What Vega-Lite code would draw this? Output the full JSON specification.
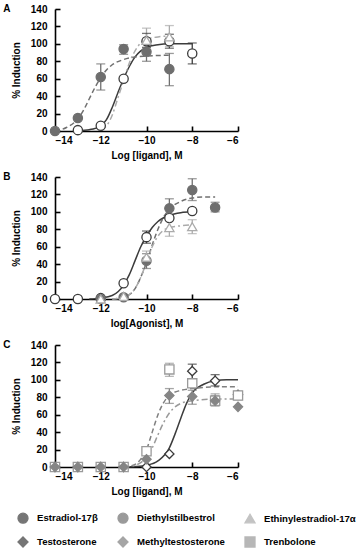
{
  "$schema": "https://vega.github.io/schema/vega-lite/v6.json",
  "padding": {"left": 3, "top": 4, "right": 0, "bottom": 48},
  "spacing": 12,
  "config": {
    "font": "Liberation Sans",
    "view": {"stroke": null},
    "axis": {
      "grid": false,
      "domainColor": "#000000",
      "domainWidth": 1.6,
      "tickColor": "#000000",
      "tickWidth": 1.6,
      "tickSize": -5,
      "labelOverlap": false,
      "labelFont": "Liberation Sans",
      "labelFontWeight": "bold",
      "labelFontSize": 10,
      "labelColor": "#000000",
      "titleFont": "Liberation Sans",
      "titleFontWeight": "bold",
      "titleFontSize": 10,
      "titleColor": "#000000"
    },
    "axisY": {"labelPadding": 13, "titlePadding": 9, "tickCount": 10},
    "axisX": {"labelPadding": 9, "titlePadding": 5, "tickCount": 10},
    "title": {"fontSize": 10, "fontWeight": "bold", "font": "Liberation Sans", "anchor": "start", "frame": "bounds", "offset": -10, "dx": -8, "color": "#000000"},
    "legend": {
      "padding": 0,
      "direction": "horizontal",
      "columns": 3,
      "labelFont": "Liberation Sans",
      "labelFontWeight": "bold",
      "labelFontSize": 9.6,
      "labelColor": "#000000",
      "labelOffset": 8,
      "symbolSize": 100,
      "symbolStrokeWidth": 1.3,
      "columnPadding": 17,
      "rowPadding": 8
    }
  },
  "datasets": {
    "points": [
      {"panel": "A", "series": "Estradiol-17β", "x": -13, "y": 1},
      {"panel": "A", "series": "Estradiol-17β", "x": -12, "y": 6},
      {"panel": "A", "series": "Estradiol-17β", "x": -11, "y": 60},
      {"panel": "A", "series": "Estradiol-17β", "x": -10, "y": 103},
      {"panel": "A", "series": "Estradiol-17β", "x": -9, "y": 103},
      {"panel": "A", "series": "Estradiol-17β", "x": -8, "y": 89},
      {"panel": "A", "series": "Diethylstilbestrol", "x": -14, "y": 0},
      {"panel": "A", "series": "Diethylstilbestrol", "x": -13, "y": 15},
      {"panel": "A", "series": "Diethylstilbestrol", "x": -12, "y": 62},
      {"panel": "A", "series": "Diethylstilbestrol", "x": -11, "y": 94},
      {"panel": "A", "series": "Diethylstilbestrol", "x": -10, "y": 91},
      {"panel": "A", "series": "Diethylstilbestrol", "x": -9, "y": 71},
      {"panel": "A", "series": "Ethinylestradiol-17α", "x": -10, "y": 104},
      {"panel": "A", "series": "Ethinylestradiol-17α", "x": -9, "y": 108},
      {"panel": "B", "series": "Estradiol-17β", "x": -14, "y": 0},
      {"panel": "B", "series": "Estradiol-17β", "x": -13, "y": 0},
      {"panel": "B", "series": "Estradiol-17β", "x": -12, "y": 1},
      {"panel": "B", "series": "Estradiol-17β", "x": -11, "y": 18},
      {"panel": "B", "series": "Estradiol-17β", "x": -10, "y": 71},
      {"panel": "B", "series": "Estradiol-17β", "x": -9, "y": 93},
      {"panel": "B", "series": "Estradiol-17β", "x": -8, "y": 101},
      {"panel": "B", "series": "Diethylstilbestrol", "x": -12, "y": 0},
      {"panel": "B", "series": "Diethylstilbestrol", "x": -11, "y": 2},
      {"panel": "B", "series": "Diethylstilbestrol", "x": -10, "y": 44},
      {"panel": "B", "series": "Diethylstilbestrol", "x": -9, "y": 104},
      {"panel": "B", "series": "Diethylstilbestrol", "x": -8, "y": 125},
      {"panel": "B", "series": "Diethylstilbestrol", "x": -7, "y": 105},
      {"panel": "B", "series": "Ethinylestradiol-17α", "x": -12, "y": 0},
      {"panel": "B", "series": "Ethinylestradiol-17α", "x": -11, "y": 3},
      {"panel": "B", "series": "Ethinylestradiol-17α", "x": -10, "y": 48},
      {"panel": "B", "series": "Ethinylestradiol-17α", "x": -9, "y": 82},
      {"panel": "B", "series": "Ethinylestradiol-17α", "x": -8, "y": 83},
      {"panel": "C", "series": "Testosterone", "x": -14, "y": 0},
      {"panel": "C", "series": "Testosterone", "x": -13, "y": 0},
      {"panel": "C", "series": "Testosterone", "x": -12, "y": 0},
      {"panel": "C", "series": "Testosterone", "x": -11, "y": 0},
      {"panel": "C", "series": "Testosterone", "x": -10, "y": 0},
      {"panel": "C", "series": "Testosterone", "x": -9, "y": 15},
      {"panel": "C", "series": "Testosterone", "x": -8, "y": 110},
      {"panel": "C", "series": "Testosterone", "x": -7, "y": 99},
      {"panel": "C", "series": "Testosterone", "x": -6, "y": 83},
      {"panel": "C", "series": "Trenbolone", "x": -14, "y": 0},
      {"panel": "C", "series": "Trenbolone", "x": -13, "y": 0},
      {"panel": "C", "series": "Trenbolone", "x": -12, "y": 0},
      {"panel": "C", "series": "Trenbolone", "x": -11, "y": 0},
      {"panel": "C", "series": "Trenbolone", "x": -10, "y": 18},
      {"panel": "C", "series": "Trenbolone", "x": -9, "y": 112},
      {"panel": "C", "series": "Trenbolone", "x": -8, "y": 96},
      {"panel": "C", "series": "Trenbolone", "x": -7, "y": 76},
      {"panel": "C", "series": "Trenbolone", "x": -6, "y": 82},
      {"panel": "C", "series": "Methyltestosterone", "x": -14, "y": 0},
      {"panel": "C", "series": "Methyltestosterone", "x": -13, "y": 0},
      {"panel": "C", "series": "Methyltestosterone", "x": -12, "y": 0},
      {"panel": "C", "series": "Methyltestosterone", "x": -11, "y": 0},
      {"panel": "C", "series": "Methyltestosterone", "x": -10, "y": 9},
      {"panel": "C", "series": "Methyltestosterone", "x": -9, "y": 82},
      {"panel": "C", "series": "Methyltestosterone", "x": -8, "y": 81},
      {"panel": "C", "series": "Methyltestosterone", "x": -7, "y": 76},
      {"panel": "C", "series": "Methyltestosterone", "x": -6, "y": 69}
    ],
    "errors": [
      {"panel": "A", "series": "Estradiol-17β", "x": -10, "lo": 96, "hi": 112},
      {"panel": "A", "series": "Estradiol-17β", "x": -9, "lo": 95, "hi": 111},
      {"panel": "A", "series": "Estradiol-17β", "x": -8, "lo": 77, "hi": 101},
      {"panel": "A", "series": "Diethylstilbestrol", "x": -12, "lo": 47, "hi": 77},
      {"panel": "A", "series": "Diethylstilbestrol", "x": -11, "lo": 88, "hi": 99},
      {"panel": "A", "series": "Diethylstilbestrol", "x": -10, "lo": 80, "hi": 100},
      {"panel": "A", "series": "Diethylstilbestrol", "x": -9, "lo": 52, "hi": 89},
      {"panel": "A", "series": "Ethinylestradiol-17α", "x": -10, "lo": 93, "hi": 118},
      {"panel": "A", "series": "Ethinylestradiol-17α", "x": -9, "lo": 97, "hi": 121},
      {"panel": "B", "series": "Estradiol-17β", "x": -10, "lo": 64, "hi": 78},
      {"panel": "B", "series": "Diethylstilbestrol", "x": -10, "lo": 35, "hi": 52},
      {"panel": "B", "series": "Diethylstilbestrol", "x": -9, "lo": 96, "hi": 115},
      {"panel": "B", "series": "Diethylstilbestrol", "x": -8, "lo": 113, "hi": 138},
      {"panel": "B", "series": "Diethylstilbestrol", "x": -7, "lo": 100, "hi": 111},
      {"panel": "B", "series": "Ethinylestradiol-17α", "x": -10, "lo": 42, "hi": 55},
      {"panel": "B", "series": "Ethinylestradiol-17α", "x": -9, "lo": 72, "hi": 90},
      {"panel": "B", "series": "Ethinylestradiol-17α", "x": -8, "lo": 75, "hi": 91},
      {"panel": "C", "series": "Testosterone", "x": -8, "lo": 101, "hi": 118},
      {"panel": "C", "series": "Testosterone", "x": -7, "lo": 93, "hi": 106},
      {"panel": "C", "series": "Methyltestosterone", "x": -9, "lo": 73, "hi": 90},
      {"panel": "C", "series": "Methyltestosterone", "x": -8, "lo": 72, "hi": 88},
      {"panel": "C", "series": "Methyltestosterone", "x": -7, "lo": 70, "hi": 82},
      {"panel": "C", "series": "Trenbolone", "x": -9, "lo": 104, "hi": 119},
      {"panel": "C", "series": "Trenbolone", "x": -7, "lo": 71, "hi": 84},
      {"panel": "C", "series": "Trenbolone", "x": -6, "lo": 77, "hi": 87}
    ],
    "curves": [
      {"panel": "A", "series": "Estradiol-17β", "style": "solid", "x": -13, "y": 0.3},
      {"panel": "A", "series": "Estradiol-17β", "style": "solid", "x": -12.5, "y": 1.5},
      {"panel": "A", "series": "Estradiol-17β", "style": "solid", "x": -12, "y": 6},
      {"panel": "A", "series": "Estradiol-17β", "style": "solid", "x": -11.75, "y": 13},
      {"panel": "A", "series": "Estradiol-17β", "style": "solid", "x": -11.5, "y": 27},
      {"panel": "A", "series": "Estradiol-17β", "style": "solid", "x": -11.25, "y": 44},
      {"panel": "A", "series": "Estradiol-17β", "style": "solid", "x": -11, "y": 60},
      {"panel": "A", "series": "Estradiol-17β", "style": "solid", "x": -10.75, "y": 74},
      {"panel": "A", "series": "Estradiol-17β", "style": "solid", "x": -10.5, "y": 85},
      {"panel": "A", "series": "Estradiol-17β", "style": "solid", "x": -10.25, "y": 92},
      {"panel": "A", "series": "Estradiol-17β", "style": "solid", "x": -10, "y": 96},
      {"panel": "A", "series": "Estradiol-17β", "style": "solid", "x": -9.5, "y": 99},
      {"panel": "A", "series": "Estradiol-17β", "style": "solid", "x": -9, "y": 100},
      {"panel": "A", "series": "Estradiol-17β", "style": "solid", "x": -8, "y": 100},
      {"panel": "A", "series": "Diethylstilbestrol", "style": "dashed", "x": -14, "y": 0},
      {"panel": "A", "series": "Diethylstilbestrol", "style": "dashed", "x": -13.5, "y": 4},
      {"panel": "A", "series": "Diethylstilbestrol", "style": "dashed", "x": -13, "y": 14},
      {"panel": "A", "series": "Diethylstilbestrol", "style": "dashed", "x": -12.75, "y": 24},
      {"panel": "A", "series": "Diethylstilbestrol", "style": "dashed", "x": -12.5, "y": 37},
      {"panel": "A", "series": "Diethylstilbestrol", "style": "dashed", "x": -12.25, "y": 50},
      {"panel": "A", "series": "Diethylstilbestrol", "style": "dashed", "x": -12, "y": 61},
      {"panel": "A", "series": "Diethylstilbestrol", "style": "dashed", "x": -11.75, "y": 70},
      {"panel": "A", "series": "Diethylstilbestrol", "style": "dashed", "x": -11.5, "y": 76},
      {"panel": "A", "series": "Diethylstilbestrol", "style": "dashed", "x": -11, "y": 82},
      {"panel": "A", "series": "Diethylstilbestrol", "style": "dashed", "x": -10.5, "y": 85},
      {"panel": "A", "series": "Diethylstilbestrol", "style": "dashed", "x": -10, "y": 86},
      {"panel": "A", "series": "Diethylstilbestrol", "style": "dashed", "x": -9, "y": 87},
      {"panel": "A", "series": "Ethinylestradiol-17α", "style": "dashdot", "x": -12, "y": 2},
      {"panel": "A", "series": "Ethinylestradiol-17α", "style": "dashdot", "x": -11.75, "y": 6},
      {"panel": "A", "series": "Ethinylestradiol-17α", "style": "dashdot", "x": -11.5, "y": 18},
      {"panel": "A", "series": "Ethinylestradiol-17α", "style": "dashdot", "x": -11.25, "y": 38},
      {"panel": "A", "series": "Ethinylestradiol-17α", "style": "dashdot", "x": -11, "y": 58},
      {"panel": "A", "series": "Ethinylestradiol-17α", "style": "dashdot", "x": -10.75, "y": 78},
      {"panel": "A", "series": "Ethinylestradiol-17α", "style": "dashdot", "x": -10.5, "y": 92},
      {"panel": "A", "series": "Ethinylestradiol-17α", "style": "dashdot", "x": -10.25, "y": 101},
      {"panel": "A", "series": "Ethinylestradiol-17α", "style": "dashdot", "x": -10, "y": 105},
      {"panel": "A", "series": "Ethinylestradiol-17α", "style": "dashdot", "x": -9.5, "y": 108},
      {"panel": "A", "series": "Ethinylestradiol-17α", "style": "dashdot", "x": -9, "y": 109},
      {"panel": "B", "series": "Estradiol-17β", "style": "solid", "x": -12.5, "y": 0},
      {"panel": "B", "series": "Estradiol-17β", "style": "solid", "x": -12, "y": 1},
      {"panel": "B", "series": "Estradiol-17β", "style": "solid", "x": -11.5, "y": 4},
      {"panel": "B", "series": "Estradiol-17β", "style": "solid", "x": -11, "y": 16},
      {"panel": "B", "series": "Estradiol-17β", "style": "solid", "x": -10.75, "y": 28},
      {"panel": "B", "series": "Estradiol-17β", "style": "solid", "x": -10.5, "y": 44},
      {"panel": "B", "series": "Estradiol-17β", "style": "solid", "x": -10.25, "y": 60},
      {"panel": "B", "series": "Estradiol-17β", "style": "solid", "x": -10, "y": 72},
      {"panel": "B", "series": "Estradiol-17β", "style": "solid", "x": -9.75, "y": 82},
      {"panel": "B", "series": "Estradiol-17β", "style": "solid", "x": -9.5, "y": 89},
      {"panel": "B", "series": "Estradiol-17β", "style": "solid", "x": -9, "y": 96},
      {"panel": "B", "series": "Estradiol-17β", "style": "solid", "x": -8.5, "y": 99},
      {"panel": "B", "series": "Estradiol-17β", "style": "solid", "x": -8, "y": 100},
      {"panel": "B", "series": "Diethylstilbestrol", "style": "dashed", "x": -11.5, "y": 0},
      {"panel": "B", "series": "Diethylstilbestrol", "style": "dashed", "x": -11, "y": 2},
      {"panel": "B", "series": "Diethylstilbestrol", "style": "dashed", "x": -10.5, "y": 12},
      {"panel": "B", "series": "Diethylstilbestrol", "style": "dashed", "x": -10.25, "y": 25},
      {"panel": "B", "series": "Diethylstilbestrol", "style": "dashed", "x": -10, "y": 42},
      {"panel": "B", "series": "Diethylstilbestrol", "style": "dashed", "x": -9.75, "y": 62},
      {"panel": "B", "series": "Diethylstilbestrol", "style": "dashed", "x": -9.5, "y": 80},
      {"panel": "B", "series": "Diethylstilbestrol", "style": "dashed", "x": -9.25, "y": 94},
      {"panel": "B", "series": "Diethylstilbestrol", "style": "dashed", "x": -9, "y": 103},
      {"panel": "B", "series": "Diethylstilbestrol", "style": "dashed", "x": -8.5, "y": 112},
      {"panel": "B", "series": "Diethylstilbestrol", "style": "dashed", "x": -8, "y": 116},
      {"panel": "B", "series": "Diethylstilbestrol", "style": "dashed", "x": -7.5, "y": 117},
      {"panel": "B", "series": "Diethylstilbestrol", "style": "dashed", "x": -7, "y": 117},
      {"panel": "B", "series": "Ethinylestradiol-17α", "style": "dashdot", "x": -11.5, "y": 0},
      {"panel": "B", "series": "Ethinylestradiol-17α", "style": "dashdot", "x": -11, "y": 2},
      {"panel": "B", "series": "Ethinylestradiol-17α", "style": "dashdot", "x": -10.5, "y": 12},
      {"panel": "B", "series": "Ethinylestradiol-17α", "style": "dashdot", "x": -10.25, "y": 25},
      {"panel": "B", "series": "Ethinylestradiol-17α", "style": "dashdot", "x": -10, "y": 42},
      {"panel": "B", "series": "Ethinylestradiol-17α", "style": "dashdot", "x": -9.75, "y": 60},
      {"panel": "B", "series": "Ethinylestradiol-17α", "style": "dashdot", "x": -9.5, "y": 72},
      {"panel": "B", "series": "Ethinylestradiol-17α", "style": "dashdot", "x": -9.25, "y": 79},
      {"panel": "B", "series": "Ethinylestradiol-17α", "style": "dashdot", "x": -9, "y": 82},
      {"panel": "B", "series": "Ethinylestradiol-17α", "style": "dashdot", "x": -8.5, "y": 84},
      {"panel": "B", "series": "Ethinylestradiol-17α", "style": "dashdot", "x": -8, "y": 85},
      {"panel": "C", "series": "Testosterone", "style": "solid", "x": -11, "y": 0},
      {"panel": "C", "series": "Testosterone", "style": "solid", "x": -10.5, "y": 0.5},
      {"panel": "C", "series": "Testosterone", "style": "solid", "x": -10, "y": 2},
      {"panel": "C", "series": "Testosterone", "style": "solid", "x": -9.5, "y": 7},
      {"panel": "C", "series": "Testosterone", "style": "solid", "x": -9, "y": 22},
      {"panel": "C", "series": "Testosterone", "style": "solid", "x": -8.75, "y": 38},
      {"panel": "C", "series": "Testosterone", "style": "solid", "x": -8.5, "y": 56},
      {"panel": "C", "series": "Testosterone", "style": "solid", "x": -8.25, "y": 73},
      {"panel": "C", "series": "Testosterone", "style": "solid", "x": -8, "y": 85},
      {"panel": "C", "series": "Testosterone", "style": "solid", "x": -7.5, "y": 95},
      {"panel": "C", "series": "Testosterone", "style": "solid", "x": -7, "y": 99},
      {"panel": "C", "series": "Testosterone", "style": "solid", "x": -6.5, "y": 100},
      {"panel": "C", "series": "Testosterone", "style": "solid", "x": -6, "y": 100},
      {"panel": "C", "series": "Methyltestosterone", "style": "dashed", "x": -11, "y": 0},
      {"panel": "C", "series": "Methyltestosterone", "style": "dashed", "x": -10.5, "y": 3},
      {"panel": "C", "series": "Methyltestosterone", "style": "dashed", "x": -10.25, "y": 9},
      {"panel": "C", "series": "Methyltestosterone", "style": "dashed", "x": -10, "y": 20},
      {"panel": "C", "series": "Methyltestosterone", "style": "dashed", "x": -9.75, "y": 40},
      {"panel": "C", "series": "Methyltestosterone", "style": "dashed", "x": -9.5, "y": 60},
      {"panel": "C", "series": "Methyltestosterone", "style": "dashed", "x": -9.25, "y": 74},
      {"panel": "C", "series": "Methyltestosterone", "style": "dashed", "x": -9, "y": 82},
      {"panel": "C", "series": "Methyltestosterone", "style": "dashed", "x": -8.5, "y": 88},
      {"panel": "C", "series": "Methyltestosterone", "style": "dashed", "x": -8, "y": 90},
      {"panel": "C", "series": "Methyltestosterone", "style": "dashed", "x": -7, "y": 92},
      {"panel": "C", "series": "Methyltestosterone", "style": "dashed", "x": -6, "y": 92},
      {"panel": "C", "series": "Trenbolone", "style": "dashdot", "x": -11, "y": 0},
      {"panel": "C", "series": "Trenbolone", "style": "dashdot", "x": -10.5, "y": 2},
      {"panel": "C", "series": "Trenbolone", "style": "dashdot", "x": -10.25, "y": 5},
      {"panel": "C", "series": "Trenbolone", "style": "dashdot", "x": -10, "y": 11},
      {"panel": "C", "series": "Trenbolone", "style": "dashdot", "x": -9.75, "y": 22},
      {"panel": "C", "series": "Trenbolone", "style": "dashdot", "x": -9.5, "y": 37},
      {"panel": "C", "series": "Trenbolone", "style": "dashdot", "x": -9.25, "y": 51},
      {"panel": "C", "series": "Trenbolone", "style": "dashdot", "x": -9, "y": 62},
      {"panel": "C", "series": "Trenbolone", "style": "dashdot", "x": -8.75, "y": 69},
      {"panel": "C", "series": "Trenbolone", "style": "dashdot", "x": -8.5, "y": 73},
      {"panel": "C", "series": "Trenbolone", "style": "dashdot", "x": -8, "y": 76},
      {"panel": "C", "series": "Trenbolone", "style": "dashdot", "x": -7, "y": 78},
      {"panel": "C", "series": "Trenbolone", "style": "dashdot", "x": -6, "y": 78}
    ]
  },
  "vconcat": [
    {
      "title": "A",
      "width": 183,
      "height": 122,
      "layer": [
        {
          "data": {"name": "curves"},
          "transform": [{"filter": "datum.panel === 'A' && datum.style === 'solid'"}],
          "mark": {"type": "line", "strokeWidth": 1.5, "interpolate": "monotone"},
          "encoding": {
            "x": {"field": "x", "type": "quantitative", "scale": {"domain": [-14, -6], "nice": false}, "axis": {"title": "Log [ligand], M", "values": [-14, -12, -10, -8, -6], "tickCount": 10, "labelOverlap": false}},
            "y": {"field": "y", "type": "quantitative", "scale": {"domain": [0, 140], "nice": false}, "axis": {"title": "% Induction", "values": [0, 20, 40, 60, 80, 100, 120, 140], "tickCount": 10, "labelOverlap": false}},
            "color": {"field": "series", "type": "nominal", "scale": {"domain": ["Estradiol-17β", "Diethylstilbestrol", "Ethinylestradiol-17α", "Testosterone", "Methyltestosterone", "Trenbolone"], "range": ["#3c3c3c", "#707070", "#ababab", "#3c3c3c", "#808080", "#9a9a9a"]}, "legend": {"title": null, "orient": "none", "legendX": -38, "legendY": 503}}
          }
        },
        {
          "data": {"name": "curves"},
          "transform": [{"filter": "datum.panel === 'A' && datum.style === 'dashed'"}],
          "mark": {"type": "line", "strokeWidth": 1.5, "interpolate": "monotone", "strokeDash": [5, 3]},
          "encoding": {
            "x": {"field": "x", "type": "quantitative"},
            "y": {"field": "y", "type": "quantitative"},
            "color": {"field": "series", "type": "nominal", "legend": {"title": null, "orient": "none", "legendX": -38, "legendY": 503}}
          }
        },
        {
          "data": {"name": "curves"},
          "transform": [{"filter": "datum.panel === 'A' && datum.style === 'dashdot'"}],
          "mark": {"type": "line", "strokeWidth": 1.5, "interpolate": "monotone", "strokeDash": [6, 3, 2, 3]},
          "encoding": {
            "x": {"field": "x", "type": "quantitative"},
            "y": {"field": "y", "type": "quantitative"},
            "color": {"field": "series", "type": "nominal", "legend": {"title": null, "orient": "none", "legendX": -38, "legendY": 503}}
          }
        },
        {
          "data": {"name": "errors"},
          "transform": [{"filter": "datum.panel === 'A'"}],
          "mark": {"type": "rule", "strokeWidth": 1.3},
          "encoding": {
            "x": {"field": "x", "type": "quantitative"},
            "y": {"field": "lo", "type": "quantitative"},
            "y2": {"field": "hi"},
            "color": {"field": "series", "type": "nominal", "legend": {"title": null, "orient": "none", "legendX": -38, "legendY": 503}}
          }
        },
        {
          "data": {"name": "errors"},
          "transform": [{"filter": "datum.panel === 'A'"}],
          "mark": {"type": "tick", "orient": "horizontal", "size": 9, "thickness": 1.3},
          "encoding": {
            "x": {"field": "x", "type": "quantitative"},
            "y": {"field": "lo", "type": "quantitative"},
            "color": {"field": "series", "type": "nominal", "legend": {"title": null, "orient": "none", "legendX": -38, "legendY": 503}}
          }
        },
        {
          "data": {"name": "errors"},
          "transform": [{"filter": "datum.panel === 'A'"}],
          "mark": {"type": "tick", "orient": "horizontal", "size": 9, "thickness": 1.3},
          "encoding": {
            "x": {"field": "x", "type": "quantitative"},
            "y": {"field": "hi", "type": "quantitative"},
            "color": {"field": "series", "type": "nominal", "legend": {"title": null, "orient": "none", "legendX": -38, "legendY": 503}}
          }
        },
        {
          "data": {"name": "points"},
          "transform": [{"filter": "datum.panel === 'A'"}],
          "mark": {"type": "point", "filled": true, "size": 85, "strokeWidth": 1.3, "opacity": 1},
          "encoding": {
            "x": {"field": "x", "type": "quantitative"},
            "y": {"field": "y", "type": "quantitative"},
            "shape": {"field": "series", "type": "nominal", "scale": {"domain": ["Estradiol-17β", "Diethylstilbestrol", "Ethinylestradiol-17α", "Testosterone", "Methyltestosterone", "Trenbolone"], "range": ["circle", "circle", "triangle-up", "diamond", "diamond", "square"]}, "legend": {"title": null, "orient": "none", "legendX": -38, "legendY": 503}},
            "fill": {"field": "series", "type": "nominal", "scale": {"domain": ["Estradiol-17β", "Diethylstilbestrol", "Ethinylestradiol-17α", "Testosterone", "Methyltestosterone", "Trenbolone"], "range": ["#ffffff", "#6e6e6e", "#ffffff", "#ffffff", "#858585", "#ffffff"]}, "legend": {"title": null, "orient": "none", "legendX": -38, "legendY": 503}},
            "stroke": {"field": "series", "type": "nominal", "scale": {"domain": ["Estradiol-17β", "Diethylstilbestrol", "Ethinylestradiol-17α", "Testosterone", "Methyltestosterone", "Trenbolone"], "range": ["#3c3c3c", "#6e6e6e", "#ababab", "#3c3c3c", "#858585", "#9a9a9a"]}, "legend": {"title": null, "orient": "none", "legendX": -38, "legendY": 503}}
          }
        }
      ]
    },
    {
      "title": "B",
      "width": 183,
      "height": 122,
      "layer": [
        {
          "data": {"name": "curves"},
          "transform": [{"filter": "datum.panel === 'B' && datum.style === 'solid'"}],
          "mark": {"type": "line", "strokeWidth": 1.5, "interpolate": "monotone"},
          "encoding": {
            "x": {"field": "x", "type": "quantitative", "scale": {"domain": [-14, -6], "nice": false}, "axis": {"title": "log[Agonist], M", "values": [-14, -12, -10, -8, -6], "tickCount": 10, "labelOverlap": false}},
            "y": {"field": "y", "type": "quantitative", "scale": {"domain": [0, 140], "nice": false}, "axis": {"title": "% Induction", "values": [0, 20, 40, 60, 80, 100, 120, 140], "tickCount": 10, "labelOverlap": false}},
            "color": {"field": "series", "type": "nominal", "legend": {"title": null, "orient": "none", "legendX": -38, "legendY": 503}}
          }
        },
        {
          "data": {"name": "curves"},
          "transform": [{"filter": "datum.panel === 'B' && datum.style === 'dashed'"}],
          "mark": {"type": "line", "strokeWidth": 1.5, "interpolate": "monotone", "strokeDash": [5, 3]},
          "encoding": {
            "x": {"field": "x", "type": "quantitative"},
            "y": {"field": "y", "type": "quantitative"},
            "color": {"field": "series", "type": "nominal", "legend": {"title": null, "orient": "none", "legendX": -38, "legendY": 503}}
          }
        },
        {
          "data": {"name": "curves"},
          "transform": [{"filter": "datum.panel === 'B' && datum.style === 'dashdot'"}],
          "mark": {"type": "line", "strokeWidth": 1.5, "interpolate": "monotone", "strokeDash": [6, 3, 2, 3]},
          "encoding": {
            "x": {"field": "x", "type": "quantitative"},
            "y": {"field": "y", "type": "quantitative"},
            "color": {"field": "series", "type": "nominal", "legend": {"title": null, "orient": "none", "legendX": -38, "legendY": 503}}
          }
        },
        {
          "data": {"name": "errors"},
          "transform": [{"filter": "datum.panel === 'B'"}],
          "mark": {"type": "rule", "strokeWidth": 1.3},
          "encoding": {
            "x": {"field": "x", "type": "quantitative"},
            "y": {"field": "lo", "type": "quantitative"},
            "y2": {"field": "hi"},
            "color": {"field": "series", "type": "nominal", "legend": {"title": null, "orient": "none", "legendX": -38, "legendY": 503}}
          }
        },
        {
          "data": {"name": "errors"},
          "transform": [{"filter": "datum.panel === 'B'"}],
          "mark": {"type": "tick", "orient": "horizontal", "size": 9, "thickness": 1.3},
          "encoding": {
            "x": {"field": "x", "type": "quantitative"},
            "y": {"field": "lo", "type": "quantitative"},
            "color": {"field": "series", "type": "nominal", "legend": {"title": null, "orient": "none", "legendX": -38, "legendY": 503}}
          }
        },
        {
          "data": {"name": "errors"},
          "transform": [{"filter": "datum.panel === 'B'"}],
          "mark": {"type": "tick", "orient": "horizontal", "size": 9, "thickness": 1.3},
          "encoding": {
            "x": {"field": "x", "type": "quantitative"},
            "y": {"field": "hi", "type": "quantitative"},
            "color": {"field": "series", "type": "nominal", "legend": {"title": null, "orient": "none", "legendX": -38, "legendY": 503}}
          }
        },
        {
          "data": {"name": "points"},
          "transform": [{"filter": "datum.panel === 'B'"}],
          "mark": {"type": "point", "filled": true, "size": 85, "strokeWidth": 1.3, "opacity": 1},
          "encoding": {
            "x": {"field": "x", "type": "quantitative"},
            "y": {"field": "y", "type": "quantitative"},
            "shape": {"field": "series", "type": "nominal", "legend": {"title": null, "orient": "none", "legendX": -38, "legendY": 503}},
            "fill": {"field": "series", "type": "nominal", "legend": {"title": null, "orient": "none", "legendX": -38, "legendY": 503}},
            "stroke": {"field": "series", "type": "nominal", "legend": {"title": null, "orient": "none", "legendX": -38, "legendY": 503}}
          }
        }
      ]
    },
    {
      "title": "C",
      "width": 183,
      "height": 122,
      "layer": [
        {
          "data": {"name": "curves"},
          "transform": [{"filter": "datum.panel === 'C' && datum.style === 'solid'"}],
          "mark": {"type": "line", "strokeWidth": 1.5, "interpolate": "monotone"},
          "encoding": {
            "x": {"field": "x", "type": "quantitative", "scale": {"domain": [-14, -6], "nice": false}, "axis": {"title": "Log [ligand], M", "values": [-14, -12, -10, -8, -6], "tickCount": 10, "labelOverlap": false}},
            "y": {"field": "y", "type": "quantitative", "scale": {"domain": [0, 140], "nice": false}, "axis": {"title": "% Induction", "values": [0, 20, 40, 60, 80, 100, 120, 140], "tickCount": 10, "labelOverlap": false}},
            "color": {"field": "series", "type": "nominal", "legend": {"title": null, "orient": "none", "legendX": -38, "legendY": 503}}
          }
        },
        {
          "data": {"name": "curves"},
          "transform": [{"filter": "datum.panel === 'C' && datum.style === 'dashed'"}],
          "mark": {"type": "line", "strokeWidth": 1.5, "interpolate": "monotone", "strokeDash": [5, 3]},
          "encoding": {
            "x": {"field": "x", "type": "quantitative"},
            "y": {"field": "y", "type": "quantitative"},
            "color": {"field": "series", "type": "nominal", "legend": {"title": null, "orient": "none", "legendX": -38, "legendY": 503}}
          }
        },
        {
          "data": {"name": "curves"},
          "transform": [{"filter": "datum.panel === 'C' && datum.style === 'dashdot'"}],
          "mark": {"type": "line", "strokeWidth": 1.5, "interpolate": "monotone", "strokeDash": [6, 3, 2, 3]},
          "encoding": {
            "x": {"field": "x", "type": "quantitative"},
            "y": {"field": "y", "type": "quantitative"},
            "color": {"field": "series", "type": "nominal", "legend": {"title": null, "orient": "none", "legendX": -38, "legendY": 503}}
          }
        },
        {
          "data": {"name": "errors"},
          "transform": [{"filter": "datum.panel === 'C'"}],
          "mark": {"type": "rule", "strokeWidth": 1.3},
          "encoding": {
            "x": {"field": "x", "type": "quantitative"},
            "y": {"field": "lo", "type": "quantitative"},
            "y2": {"field": "hi"},
            "color": {"field": "series", "type": "nominal", "legend": {"title": null, "orient": "none", "legendX": -38, "legendY": 503}}
          }
        },
        {
          "data": {"name": "errors"},
          "transform": [{"filter": "datum.panel === 'C'"}],
          "mark": {"type": "tick", "orient": "horizontal", "size": 9, "thickness": 1.3},
          "encoding": {
            "x": {"field": "x", "type": "quantitative"},
            "y": {"field": "lo", "type": "quantitative"},
            "color": {"field": "series", "type": "nominal", "legend": {"title": null, "orient": "none", "legendX": -38, "legendY": 503}}
          }
        },
        {
          "data": {"name": "errors"},
          "transform": [{"filter": "datum.panel === 'C'"}],
          "mark": {"type": "tick", "orient": "horizontal", "size": 9, "thickness": 1.3},
          "encoding": {
            "x": {"field": "x", "type": "quantitative"},
            "y": {"field": "hi", "type": "quantitative"},
            "color": {"field": "series", "type": "nominal", "legend": {"title": null, "orient": "none", "legendX": -38, "legendY": 503}}
          }
        },
        {
          "data": {"name": "points"},
          "transform": [{"filter": "datum.panel === 'C'"}],
          "mark": {"type": "point", "filled": true, "size": 85, "strokeWidth": 1.3, "opacity": 1},
          "encoding": {
            "x": {"field": "x", "type": "quantitative"},
            "y": {"field": "y", "type": "quantitative"},
            "shape": {"field": "series", "type": "nominal", "legend": {"title": null, "orient": "none", "legendX": -38, "legendY": 503}},
            "fill": {"field": "series", "type": "nominal", "legend": {"title": null, "orient": "none", "legendX": -38, "legendY": 503}},
            "stroke": {"field": "series", "type": "nominal", "legend": {"title": null, "orient": "none", "legendX": -38, "legendY": 503}}
          }
        }
      ]
    }
  ]
}
